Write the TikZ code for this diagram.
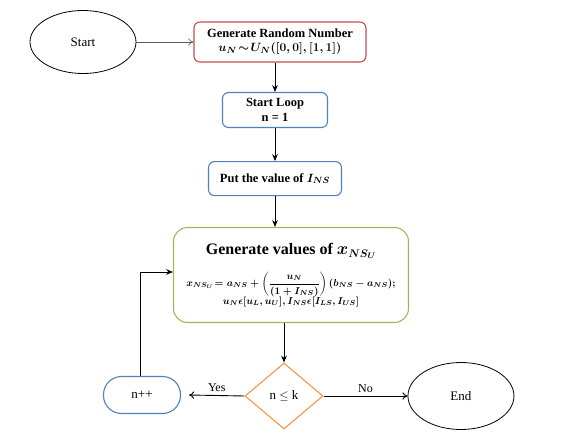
\documentclass[tikz,border=0pt]{standalone}
\usepackage{fontspec}
\setmainfont{Liberation Serif}
\usepackage{amsmath}
\usepackage{xcolor}
\usetikzlibrary{shapes.geometric, arrows.meta, positioning, calc}

\definecolor{boxred}{HTML}{C0504D}
\definecolor{boxblue}{HTML}{4F81BD}
\definecolor{boxgreen}{HTML}{9BBB59}
\definecolor{boxorange}{HTML}{F79646}

\begin{document}
\begin{tikzpicture}[x=1pt, y=1pt,
    terminal/.style={ellipse, draw, thick, minimum width=106pt, minimum height=63pt, font=\fontsize{13}{15}\selectfont},
    process/.style={rectangle, draw, rounded corners=6pt, line width=1.1pt, align=center, inner sep=2pt, fill=white, font=\bfseries\boldmath\fontsize{12.5}{15}\selectfont},
    decision/.style={diamond, draw=boxorange, line width=1.1pt, minimum width=78pt, minimum height=66pt, inner sep=1pt, font=\fontsize{13}{15}\selectfont},
    arrow/.style={-{Stealth[length=2.4mm, width=2mm]}, line width=0.9pt},
    openarrow/.style={-{To[length=1.8mm, width=2.6mm]}, line width=0.9pt}
]
\useasboundingbox (0,0) rectangle (566,-442);

% Nodes
\node[terminal] (start) at (83,-42) {Start};
\node[process, draw=boxred, minimum width=172pt, minimum height=40pt, right=57pt of start] (random)
    {Generate Random Number\\[-1pt] $u_N\!\sim\! U_N([0,0],[1,1])$};
\node[process, draw=boxblue, minimum width=105pt, minimum height=35pt] (loop) at (275,-110)
    {Start Loop\\ n = 1};
\node[process, draw=boxblue, minimum width=133pt, minimum height=34pt, below=33pt of loop] (put)
    {Put the value of $I_{NS}$};
\node[process, draw=boxgreen, rounded corners=14pt, minimum width=235pt, minimum height=95pt] (gen) at (291,-275)
    {{\fontsize{16}{19}\selectfont Generate values of $x_{NS_U}$}\\[12pt]
     {\fontsize{10}{12}\selectfont $x_{NS_U}\!= a_{NS} + \left(\dfrac{u_N}{(1+I_{NS})}\right)(b_{NS}-a_{NS});$}\\[-1pt]
     {\fontsize{10}{12}\selectfont $u_N\epsilon[u_L,u_U], I_{NS}\epsilon[I_{LS},I_{US}]$}};
\node[decision] (check) at (284,-396) {n $\leq$ k};
\node[terminal, minimum height=67pt, right=84pt of check] (end) {End};
\node[rectangle, draw=boxblue, line width=1.1pt, rounded corners=18pt, minimum width=77pt, minimum height=37pt,
    font=\fontsize{13}{15}\selectfont] (inc) at (142,-395) {n++};
\coordinate (corner) at (140,-272);

% Arrows
\draw[openarrow, gray!70!black, line width=0.6pt] (start.east) -- (random.west);
\draw[arrow] (loop.north |- random.south) -- (loop.north);
\draw[arrow] (loop.south) -- (put.north);
\draw[arrow] (put.south) -- (put.south |- gen.north);
\draw[arrow] (gen.south -| check.north) -- (check.north);
\draw[openarrow] (check.east) -- (end.west) node[midway, above, font=\fontsize{12}{14}\selectfont] {No};
\draw[openarrow] (check.west) -- ([xshift=8pt]inc.east) node[midway, above, font=\fontsize{12}{14}\selectfont] {Yes};
\draw[arrow] (inc.north -| corner) -- (corner) -- (corner -| gen.west);

\end{tikzpicture}
\end{document}
